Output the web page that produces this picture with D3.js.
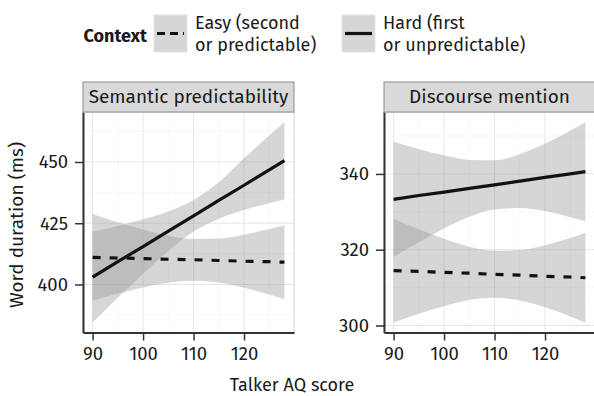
<!DOCTYPE html>
<html>
<head>
<meta charset="utf-8">
<script src="https://cdn.jsdelivr.net/npm/d3@7"></script>
<style>
  body { margin: 0; background: #fff; }
  text { font-family: "Fira Sans", Roboto, sans-serif; fill: #1a1a1a; }
</style>
</head>
<body>
<div id="chart"></div>
<script>
// Talker AQ score where the fits were read
const aq = [90, 95, 100, 105, 110, 115, 120, 125, 128];

// Semantic predictability panel
const semHardFit = [403, 409.3, 415.5, 421.8, 428, 434.3, 440.5, 446.8, 450.5];
const semHardLo  = [384.5, 394.6, 404.4, 413.7, 421.5, 426.8, 430.4, 433.2, 434.7];
const semHardHi  = [421.5, 423.9, 426.6, 429.8, 434.5, 441.7, 451.5, 460.8, 466.3];
const semEasyFit = [411.1, 410.8, 410.6, 410.3, 410.1, 409.8, 409.5, 409.3, 409.1];
const semEasyLo  = [393.4, 396.3, 398.8, 400.7, 401.5, 400.8, 398.7, 395.9, 394.0];
const semEasyHi  = [428.8, 425.4, 422.4, 419.9, 418.6, 418.8, 420.3, 422.6, 424.2];

// Discourse mention panel
const disHardFit = [333.3, 334.3, 335.2, 336.2, 337.1, 338.1, 339.1, 340.0, 340.6];
const disHardLo  = [318.1, 322.0, 325.6, 328.7, 330.6, 331.0, 330.2, 328.6, 327.5];
const disHardHi  = [348.5, 346.6, 344.9, 343.7, 343.6, 345.2, 348.0, 351.4, 353.7];
const disEasyFit = [314.5, 314.3, 314.0, 313.8, 313.5, 313.3, 313.0, 312.8, 312.6];
const disEasyLo  = [300.8, 303.1, 305.1, 306.7, 307.3, 306.6, 304.8, 302.4, 300.8];
const disEasyHi  = [328.2, 325.4, 322.9, 320.8, 319.7, 319.9, 321.2, 323.1, 324.4];

const xTicks = [90, 100, 110, 120];
const semTicks = [400, 425, 450];
const disTicks = [300, 320, 340];
const legendLabels = [["Easy (second", "or predictable)"], ["Hard (first", "or unpredictable)"]];

const W = 594, H = 396;
const svg = d3.select("#chart").append("svg").attr("width", W).attr("height", H);

const panelTop = 112, panelBottom = 332.5, panelW = 211;

// shared x scale shape, with 5% padding like ggplot
const xExt = d3.extent(aq);
const xPad = (xExt[1] - xExt[0]) * 0.05;

const panels = [
  { title: "Semantic predictability", left: 83, ticks: semTicks, minor: [387.5, 412.5, 437.5, 462.5],
    easy: [semEasyFit, semEasyLo, semEasyHi], hard: [semHardFit, semHardLo, semHardHi] },
  { title: "Discourse mention", left: 384, ticks: disTicks, minor: [310, 330, 350],
    easy: [disEasyFit, disEasyLo, disEasyHi], hard: [disHardFit, disHardLo, disHardHi] }
];

panels.forEach((p, i) => {
  const x = d3.scaleLinear().domain([xExt[0] - xPad, xExt[1] + xPad]).range([p.left, p.left + panelW]);
  const all = p.easy[1].concat(p.easy[2], p.hard[1], p.hard[2]);
  const yExt = d3.extent(all);
  const yPad = (yExt[1] - yExt[0]) * 0.05;
  const y = d3.scaleLinear().domain([yExt[0] - yPad, yExt[1] + yPad]).range([panelBottom, panelTop]);

  const g = svg.append("g");
  const clipId = "clip" + i;
  g.append("clipPath").attr("id", clipId).append("rect")
    .attr("x", p.left).attr("y", panelTop).attr("width", panelW).attr("height", panelBottom - panelTop);

  // grid
  const minorX = [85, 95, 105, 115, 125];
  g.selectAll(".gxm").data(minorX).enter().append("line")
    .attr("x1", d => x(d)).attr("x2", d => x(d)).attr("y1", panelTop).attr("y2", panelBottom)
    .attr("stroke", "#f2f2f2").attr("stroke-width", 0.6).attr("clip-path", `url(#${clipId})`);
  g.selectAll(".gym").data(p.minor).enter().append("line")
    .attr("x1", p.left).attr("x2", p.left + panelW).attr("y1", d => y(d)).attr("y2", d => y(d))
    .attr("stroke", "#f2f2f2").attr("stroke-width", 0.6);
  g.selectAll(".gx").data(xTicks).enter().append("line")
    .attr("x1", d => x(d)).attr("x2", d => x(d)).attr("y1", panelTop).attr("y2", panelBottom)
    .attr("stroke", "#e6e6e6").attr("stroke-width", 1);
  g.selectAll(".gy").data(p.ticks).enter().append("line")
    .attr("x1", p.left).attr("x2", p.left + panelW).attr("y1", d => y(d)).attr("y2", d => y(d))
    .attr("stroke", "#e6e6e6").attr("stroke-width", 1);

  // ribbons
  const area = d3.area().curve(d3.curveMonotoneX)
    .x((d, j) => x(aq[j]));
  [p.easy, p.hard].forEach(s => {
    g.append("path")
      .attr("d", area.y0((d, j) => y(s[1][j])).y1((d, j) => y(s[2][j]))(aq))
      .attr("fill", "#999").attr("fill-opacity", 0.4)
      .attr("clip-path", `url(#${clipId})`);
  });

  // fit lines
  const line = d3.line().x((d, j) => x(aq[j]));
  g.append("path")
    .attr("d", line.y((d, j) => y(p.easy[0][j]))(aq))
    .attr("fill", "none").attr("stroke", "#111").attr("stroke-width", 3.2)
    .attr("stroke-dasharray", "8,9");
  g.append("path")
    .attr("d", line.y((d, j) => y(p.hard[0][j]))(aq))
    .attr("fill", "none").attr("stroke", "#111").attr("stroke-width", 3.2);

  // panel border (light), then axis lines
  g.append("rect").attr("x", p.left).attr("y", panelTop).attr("width", panelW).attr("height", panelBottom - panelTop)
    .attr("fill", "none").attr("stroke", "#d0d0d0").attr("stroke-width", 1);

  const xAxis = d3.axisBottom(x).tickValues(xTicks).tickSize(8).tickPadding(6).tickSizeOuter(0);
  const xa = g.append("g").attr("transform", `translate(0,${panelBottom})`).call(xAxis);
  const yAxis = d3.axisLeft(y).tickValues(p.ticks).tickSize(8).tickPadding(7).tickSizeOuter(0);
  const ya = g.append("g").attr("transform", `translate(${p.left},0)`).call(yAxis);
  [xa, ya].forEach(a => {
    a.select(".domain").attr("stroke", "#333").attr("stroke-width", 2);
    a.selectAll(".tick line").attr("stroke", "#333").attr("stroke-width", 1.5);
    a.selectAll(".tick text").attr("font-size", 18.5).attr("fill", "#1a1a1a")
      .style("font-family", '"Fira Sans", Roboto, sans-serif');
  });

  // strip
  g.append("rect").attr("x", p.left).attr("y", 82).attr("width", panelW).attr("height", 30)
    .attr("fill", "#d9d9d9").attr("stroke", "#8c8c8c").attr("stroke-width", 1);
  g.append("text").attr("x", p.left + panelW / 2).attr("y", 103)
    .attr("text-anchor", "middle").attr("font-size", 19).text(p.title);
});

// axis titles
svg.append("text").attr("x", 292).attr("y", 391).attr("text-anchor", "middle")
  .attr("font-size", 18).text("Talker AQ score");
svg.append("text").attr("transform", "translate(23,225) rotate(-90)").attr("text-anchor", "middle")
  .attr("font-size", 19).text("Word duration (ms)");

// legend
const leg = svg.append("g");
leg.append("text").attr("x", 147).attr("y", 42).attr("text-anchor", "end")
  .attr("font-size", 18).attr("font-weight", "bold").text("Context");
const keyX = [154, 342];
legendLabels.forEach((lab, i) => {
  const kx = keyX[i];
  leg.append("rect").attr("x", kx).attr("y", 15).attr("width", 33).attr("height", 37)
    .attr("fill", "#d6d6d6").attr("stroke", "#e6e6e6");
  leg.append("line").attr("x1", kx + 3).attr("x2", kx + 30).attr("y1", 33.5).attr("y2", 33.5)
    .attr("stroke", "#111").attr("stroke-width", 3.2)
    .attr("stroke-dasharray", i === 0 ? "8,5" : null);
  leg.append("text").attr("x", kx + 41).attr("y", 29).attr("font-size", 18).text(lab[0]);
  leg.append("text").attr("x", kx + 41).attr("y", 51).attr("font-size", 18).text(lab[1]);
});
</script>
</body>
</html>
